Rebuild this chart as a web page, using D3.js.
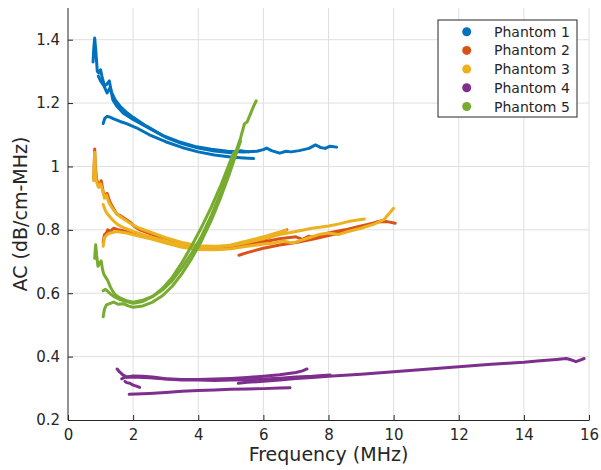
<!DOCTYPE html>
<html>
<head>
<meta charset="utf-8">
<script src="https://cdn.jsdelivr.net/npm/d3@7"></script>
<style>
	body { margin: 0; background: #fff; }
	svg text { font-family: 'DejaVu Sans', sans-serif; fill: #262626; }
</style>
</head>
<body>
<svg id="chart" width="601" height="470"></svg>
<script>
// legend names and tick values
var names  = [ 'Phantom 1', 'Phantom 2', 'Phantom 3', 'Phantom 4', 'Phantom 5' ];
var xTicks = [ 0, 2, 4, 6, 8, 10, 12, 14, 16 ];
var yTicks = [ 0.2, 0.4, 0.6, 0.8, 1, 1.2, 1.4 ];

// each phantom: list of curves, each curve [ frequency MHz, AC dB/cm-MHz ]
var phantom1 = [
	  [ [0.77,1.33],[0.79,1.37],[0.82,1.405],[0.85,1.37],[0.9,1.3],[0.95,1.295],[1.0,1.305],[1.05,1.28],[1.12,1.255],[1.18,1.258],[1.27,1.27],[1.33,1.235],[1.45,1.21],[1.6,1.19],[1.8,1.17],[2.0,1.155],[2.4,1.128],[2.9,1.098],[3.4,1.078],[3.9,1.063],[4.4,1.054],[4.9,1.048],[5.4,1.046],[5.8,1.048],[6.0,1.053],[6.1,1.058],[6.25,1.05],[6.5,1.042],[6.7,1.048],[6.85,1.046],[7.1,1.05],[7.4,1.057],[7.6,1.068],[7.75,1.06],[7.9,1.057],[8.05,1.064],[8.25,1.061] ]
	, [ [0.93,1.285],[1.0,1.27],[1.1,1.255],[1.2,1.232],[1.3,1.25],[1.38,1.21],[1.5,1.19],[1.7,1.168],[2.0,1.148],[2.5,1.12],[3.0,1.092],[3.5,1.072],[4.0,1.058],[4.5,1.049],[5.0,1.043],[5.3,1.05],[5.55,1.046] ]
	, [ [1.08,1.135],[1.13,1.152],[1.2,1.158],[1.28,1.156],[1.4,1.15],[1.6,1.142],[1.8,1.135],[2.1,1.122],[2.5,1.1],[3.0,1.078],[3.5,1.06],[4.0,1.046],[4.5,1.036],[5.0,1.03],[5.4,1.027],[5.7,1.025] ]
];
var phantom2 = [
	  [ [0.79,0.96],[0.81,1.02],[0.82,1.055],[0.84,1.0],[0.88,0.96],[0.95,0.935],[1.02,0.955],[1.08,0.92],[1.13,0.905],[1.2,0.915],[1.28,0.89],[1.38,0.87],[1.5,0.85],[1.6,0.845],[1.75,0.835],[1.9,0.825],[2.05,0.81],[2.2,0.8],[2.6,0.785],[3.0,0.768],[3.5,0.752],[4.0,0.744],[4.5,0.742],[5.0,0.745],[5.5,0.755],[6.0,0.768],[6.4,0.785],[6.6,0.795],[6.72,0.8] ]
	, [ [1.08,0.76],[1.12,0.785],[1.18,0.79],[1.22,0.8],[1.3,0.795],[1.4,0.805],[1.55,0.8],[1.8,0.795],[2.2,0.785],[2.6,0.775],[3.0,0.762],[3.5,0.748],[4.0,0.74],[4.5,0.738],[5.0,0.742],[5.5,0.752],[6.0,0.762],[6.5,0.772],[7.0,0.778],[7.2,0.77],[7.4,0.78],[7.6,0.773],[7.8,0.783],[8.0,0.79],[8.5,0.8],[9.0,0.812],[9.4,0.822],[9.6,0.828] ]
	, [ [5.25,0.72],[5.5,0.728],[6.0,0.742],[6.5,0.752],[7.0,0.76],[7.5,0.77],[8.0,0.782],[8.5,0.793],[9.0,0.808],[9.5,0.825],[9.8,0.826],[10.05,0.821] ]
];
var phantom3 = [
	  [ [0.79,0.955],[0.8,1.0],[0.82,1.045],[0.84,0.99],[0.87,0.955],[0.93,0.935],[1.0,0.945],[1.06,0.925],[1.12,0.9],[1.18,0.91],[1.26,0.885],[1.38,0.865],[1.5,0.85],[1.65,0.838],[1.8,0.828],[2.0,0.815],[2.2,0.805],[2.6,0.79],[3.0,0.775],[3.5,0.76],[4.0,0.75],[4.5,0.748],[5.0,0.75],[5.5,0.76],[6.0,0.772],[6.5,0.785],[7.0,0.795],[7.5,0.805],[8.0,0.812],[8.3,0.818],[8.6,0.826],[9.1,0.834] ]
	, [ [1.08,0.748],[1.12,0.775],[1.2,0.785],[1.3,0.79],[1.5,0.795],[1.8,0.79],[2.2,0.78],[2.6,0.77],[3.0,0.758],[3.5,0.745],[4.0,0.738],[4.5,0.737],[5.0,0.74],[5.5,0.748],[6.0,0.755],[6.3,0.758],[6.6,0.765],[6.9,0.758],[7.1,0.765],[7.4,0.775],[7.7,0.785],[8.0,0.79],[8.3,0.785],[8.6,0.795],[9.0,0.805],[9.4,0.818],[9.7,0.832],[9.85,0.85],[10.0,0.868] ]
	, [ [1.08,0.88],[1.15,0.86],[1.25,0.845],[1.38,0.83],[1.55,0.815],[1.75,0.805],[2.0,0.795],[2.5,0.778],[3.0,0.765],[3.5,0.752],[4.0,0.745],[4.5,0.745],[5.0,0.752],[5.5,0.765],[6.0,0.778],[6.4,0.79],[6.7,0.798] ]
];
var phantom4 = [
	  [ [1.51,0.361],[1.6,0.35],[1.69,0.342],[1.8,0.336],[2.0,0.339],[2.3,0.338],[2.6,0.336],[3.0,0.33],[3.5,0.328],[4.0,0.328],[4.5,0.329],[5.0,0.331],[5.5,0.334],[6.0,0.338],[6.5,0.343],[7.0,0.35],[7.2,0.355],[7.34,0.361] ]
	, [ [1.65,0.33],[1.75,0.335],[2.0,0.336],[2.5,0.333],[3.0,0.329],[3.5,0.326],[4.0,0.326],[4.5,0.325],[5.0,0.326],[5.5,0.327],[6.0,0.329],[6.5,0.332],[7.0,0.336],[7.5,0.338],[8.05,0.342] ]
	, [ [5.23,0.316],[5.5,0.319],[6.0,0.322],[6.5,0.326],[7.0,0.331],[7.5,0.334],[8.0,0.338],[8.5,0.341],[9.0,0.344],[9.5,0.348],[10.0,0.352],[10.5,0.356],[11.0,0.36],[11.5,0.364],[12.0,0.368],[12.5,0.372],[13.0,0.376],[13.5,0.379],[14.0,0.382],[14.5,0.387],[15.0,0.391],[15.3,0.394],[15.45,0.39],[15.6,0.384],[15.75,0.39],[15.85,0.394] ]
	, [ [1.75,0.322],[1.8,0.318],[1.9,0.316],[2.0,0.31],[2.1,0.307],[2.2,0.303] ]
	, [ [1.88,0.281],[2.5,0.284],[3.0,0.287],[3.5,0.291],[4.0,0.293],[4.5,0.295],[5.0,0.297],[5.5,0.298],[6.0,0.299],[6.5,0.301],[6.82,0.302] ]
];
var phantom5 = [
	  [ [0.82,0.71],[0.84,0.74],[0.85,0.753],[0.88,0.72],[0.92,0.685],[0.97,0.695],[1.02,0.702],[1.06,0.675],[1.1,0.66],[1.16,0.65],[1.22,0.64],[1.3,0.62],[1.38,0.605],[1.45,0.595],[1.6,0.585],[1.8,0.576],[2.0,0.572],[2.3,0.578],[2.6,0.59],[2.9,0.61],[3.2,0.64],[3.5,0.68],[3.8,0.727],[4.1,0.78],[4.4,0.845],[4.7,0.92],[4.95,0.99],[5.15,1.045],[5.3,1.09],[5.42,1.135],[5.5,1.14],[5.6,1.165],[5.7,1.19],[5.78,1.207] ]
	, [ [1.08,0.526],[1.12,0.55],[1.18,0.563],[1.28,0.567],[1.4,0.572],[1.55,0.565],[1.7,0.567],[1.85,0.56],[2.0,0.556],[2.3,0.56],[2.6,0.572],[2.9,0.592],[3.2,0.622],[3.5,0.662],[3.8,0.71],[4.1,0.765],[4.4,0.83],[4.7,0.905],[4.95,0.975],[5.15,1.035],[5.3,1.08] ]
	, [ [1.08,0.608],[1.15,0.612],[1.23,0.605],[1.3,0.598],[1.4,0.59],[1.6,0.58],[1.8,0.574],[2.0,0.568],[2.3,0.574],[2.6,0.59],[2.9,0.615],[3.2,0.65],[3.5,0.697],[3.8,0.75],[4.1,0.808],[4.4,0.872],[4.7,0.942],[4.95,1.008],[5.1,1.045] ]
];
var phantoms = [ phantom1, phantom2, phantom3, phantom4, phantom5 ];
var colors   = [ '#0072bd', '#d95319', '#edb120', '#7e2f8e', '#77ac30' ];

var svg    = d3.select( '#chart' );
var plot   = { left: 68, right: 589, top: 8, bottom: 420 };
var xScale = d3.scaleLinear().domain( [ 0, 16 ] ).range( [ plot.left, plot.right ] );
var yScale = d3.scaleLinear().domain( [ 0.2, 1.5 ] ).range( [ plot.bottom, plot.top ] );

// grid
svg.append( 'g' )
	.selectAll( 'line' )
	.data( xTicks.slice( 1 ) )
	.join( 'line' )
	.attr( 'x1', d => xScale( d ) ).attr( 'x2', d => xScale( d ) )
	.attr( 'y1', plot.top ).attr( 'y2', plot.bottom )
	.attr( 'stroke', '#dfdfdf' );
svg.append( 'g' )
	.selectAll( 'line' )
	.data( yTicks.slice( 1 ) )
	.join( 'line' )
	.attr( 'x1', plot.left ).attr( 'x2', plot.right )
	.attr( 'y1', d => yScale( d ) ).attr( 'y2', d => yScale( d ) )
	.attr( 'stroke', '#dfdfdf' );

// curves
var lineGen = d3.line()
	.x( d => xScale( d[ 0 ] ) )
	.y( d => yScale( d[ 1 ] ) );
phantoms.forEach( ( curves, i ) => {
	svg.append( 'g' )
		.selectAll( 'path' )
		.data( curves )
		.join( 'path' )
		.attr( 'd', lineGen )
		.attr( 'fill', 'none' )
		.attr( 'stroke', colors[ i ] )
		.attr( 'stroke-width', 3 )
		.attr( 'stroke-linejoin', 'round' )
		.attr( 'stroke-linecap', 'round' );
} );

// axes, ticks inward
var xAxis = svg.append( 'g' )
	.attr( 'transform', 'translate(0,'+ plot.bottom +')' )
	.call( d3.axisBottom( xScale ).tickValues( xTicks ).tickSizeInner( -5 ).tickSizeOuter( 0 ).tickPadding( 9 ).tickFormat( d3.format( 'd' ) ) );
var yAxis = svg.append( 'g' )
	.attr( 'transform', 'translate('+ plot.left +',0)' )
	.call( d3.axisLeft( yScale ).tickValues( yTicks ).tickSizeInner( -5 ).tickSizeOuter( 0 ).tickPadding( 8 ).tickFormat( d => d3.format( '~g' )( d ) ) );
[ xAxis, yAxis ].forEach( ax => {
	ax.selectAll( 'path, line' ).attr( 'stroke', '#262626' );
	ax.selectAll( 'text' ).attr( 'font-size', '15px' ).attr( 'fill', '#262626' ).style( 'font-family', "'DejaVu Sans', sans-serif" );
} );
yAxis.select( '.domain' ).attr( 'd', 'M0,'+ plot.top +'V'+ plot.bottom );

// axis labels
svg.append( 'text' )
	.attr( 'x', ( plot.left + plot.right ) / 2 )
	.attr( 'y', 461 )
	.attr( 'text-anchor', 'middle' )
	.attr( 'font-size', '19px' )
	.text( 'Frequency (MHz)' );
svg.append( 'text' )
	.attr( 'transform', 'translate(27,'+ ( plot.top + plot.bottom ) / 2 +') rotate(-90)' )
	.attr( 'text-anchor', 'middle' )
	.attr( 'font-size', '19px' )
	.text( 'AC (dB/cm-MHz)' );

// legend
var legend = svg.append( 'g' ).attr( 'transform', 'translate(438,20)' );
legend.append( 'rect' )
	.attr( 'width', 139 ).attr( 'height', 97 )
	.attr( 'fill', '#fff' ).attr( 'stroke', '#262626' );
var rows = legend.selectAll( 'g.row' )
	.data( names )
	.join( 'g' )
	.attr( 'class', 'row' )
	.attr( 'transform', ( d, i ) => 'translate(0,'+ ( 11.7 + i * 18.7 ) +')' );
rows.append( 'circle' )
	.attr( 'cx', 28.7 ).attr( 'r', 4.5 )
	.attr( 'fill', ( d, i ) => colors[ i ] );
rows.append( 'text' )
	.attr( 'x', 56 ).attr( 'dy', '0.36em' )
	.attr( 'font-size', '14px' )
	.text( d => d );
</script>
</body>
</html>
